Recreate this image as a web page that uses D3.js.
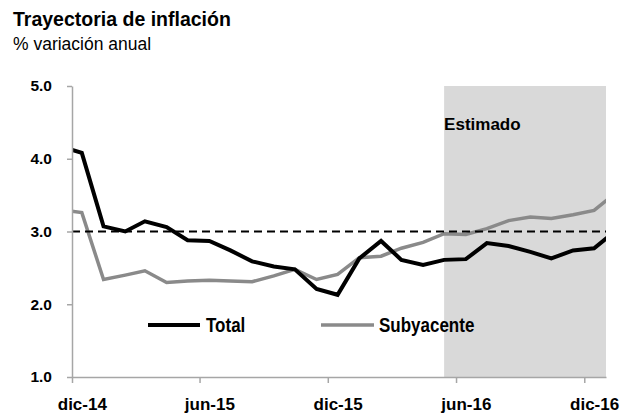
<!DOCTYPE html>
<html>
<head>
<meta charset="utf-8">
<script src="https://cdn.jsdelivr.net/npm/d3@7.9.0/dist/d3.min.js"></script>
<style>
  body { margin: 0; background: #fff; }
  svg { display: block; font-family: "Liberation Sans", Arial, sans-serif; }
  .axis path, .axis line { stroke: #a6a6a6; stroke-width: 1.5; }
  .axis text { fill: #000; font-weight: bold; }
</style>
</head>
<body>
<div id="chart"></div>
<script>
// ---------- data (monthly, % annual change) ----------
const months = ['2014-11','2014-12','2015-01','2015-02','2015-03','2015-04','2015-05','2015-06',
  '2015-07','2015-08','2015-09','2015-10','2015-11','2015-12','2016-01','2016-02','2016-03',
  '2016-04','2016-05','2016-06','2016-07','2016-08','2016-09','2016-10','2016-11','2016-12','2017-01'];
const total = [4.17, 4.08, 3.07, 3.00, 3.14, 3.06, 2.88, 2.87, 2.74, 2.59, 2.52, 2.48, 2.21, 2.13,
  2.63, 2.87, 2.61, 2.54, 2.61, 2.62, 2.84, 2.80, 2.72, 2.63, 2.74, 2.77, 3.01];
const subyacente = [3.30, 3.26, 2.34, 2.40, 2.46, 2.30, 2.32, 2.33, 2.32, 2.31, 2.39, 2.48, 2.34, 2.41,
  2.64, 2.66, 2.77, 2.85, 2.97, 2.96, 3.04, 3.15, 3.20, 3.18, 3.23, 3.29, 3.53];
const meta = 3.0;                 // target line
const estimadoDesde = '2016-05';  // start of shaded forecast area
const xRange = ['2014-12', '2017-01'];
const tickMonths = ['2014-12','2015-06','2015-12','2016-06','2016-12'];
const tickLabels = ['dic-14','jun-15','dic-15','jun-16','dic-16'];
const yTicks = [1, 2, 3, 4, 5];

const parseMonth = d3.utcParse('%Y-%m');
const mid = m => d3.utcDay.offset(parseMonth(m), 14);   // points sit mid-month

const W = 630, H = 415;
const margin = { top: 86, right: 24, bottom: 38, left: 72 };

const svg = d3.select('#chart').append('svg')
  .attr('width', W).attr('height', H);

const x = d3.scaleUtc()
  .domain(xRange.map(parseMonth))
  .range([margin.left, W - margin.right]);
const y = d3.scaleLinear()
  .domain([1, 5])
  .range([H - margin.bottom, margin.top]);

const series = [
  { name: 'Total', values: total, color: '#000', width: 4 },
  { name: 'Subyacente', values: subyacente, color: '#8a8a8a', width: 3.5 },
];

svg.append('defs').append('clipPath').attr('id', 'plot')
  .append('rect')
  .attr('x', x.range()[0]).attr('y', y.range()[1])
  .attr('width', x.range()[1] - x.range()[0])
  .attr('height', y.range()[0] - y.range()[1]);

// titles
svg.append('text').attr('x', 13).attr('y', 26)
  .style('font-size', '19.5px').style('font-weight', 'bold')
  .text('Trayectoria de inflación');
svg.append('text').attr('x', 13).attr('y', 50)
  .style('font-size', '17.5px')
  .text('% variación anual');

// shaded forecast area
svg.append('rect')
  .attr('x', x(mid(estimadoDesde)))
  .attr('y', y(5))
  .attr('width', x.range()[1] - x(mid(estimadoDesde)))
  .attr('height', y(1) - y(5))
  .attr('fill', '#d9d9d9');

svg.append('text')
  .attr('x', x(mid(estimadoDesde)))
  .attr('y', 130)
  .style('font-size', '17px').style('font-weight', 'bold')
  .text('Estimado');

// lines (drawn under the axes, clipped to the plot)
const line = d3.line()
  .x((d, i) => x(mid(months[i])))
  .y(d => y(d));

const lines = svg.append('g').attr('clip-path', 'url(#plot)');
[...series].reverse().forEach(s => {
  lines.append('path')
    .attr('d', line(s.values))
    .attr('fill', 'none')
    .attr('stroke', s.color)
    .attr('stroke-width', s.width)
    .attr('stroke-linejoin', 'miter');
});

// target dashed line
svg.append('line')
  .attr('x1', x.range()[0]).attr('x2', x.range()[1])
  .attr('y1', y(meta)).attr('y2', y(meta))
  .attr('stroke', '#000').attr('stroke-width', 2)
  .attr('stroke-dasharray', '8,5');

// axes
const yAxis = svg.append('g').attr('class', 'axis')
  .attr('transform', `translate(${margin.left},0)`)
  .call(d3.axisLeft(y).tickValues(yTicks).tickFormat(d3.format('.1f'))
    .tickSize(5).tickSizeOuter(0).tickPadding(15));
yAxis.selectAll('text').style('font-size', '15.5px');

const xAxis = svg.append('g').attr('class', 'axis')
  .attr('transform', `translate(0,${H - margin.bottom})`)
  .call(d3.axisBottom(x).tickValues(tickMonths.map(parseMonth))
    .tickFormat((d, i) => tickLabels[i])
    .tickSize(6).tickSizeOuter(0).tickPadding(15));
xAxis.selectAll('text')
  .style('font-size', '17px')
  .attr('x', (d, i) => x(mid(tickMonths[i])) - x(d));

// legend (text a little taller than wide, as in the original)
const legend = svg.append('g');
const legendPos = [{ x1: 148, x2: 200, tx: 206 }, { x1: 321, x2: 374, tx: 379 }];
series.forEach((s, i) => {
  const p = legendPos[i];
  legend.append('line')
    .attr('x1', p.x1).attr('x2', p.x2).attr('y1', 325).attr('y2', 325)
    .attr('stroke', s.color).attr('stroke-width', s.width);
  legend.append('text')
    .attr('transform', `translate(${p.tx},331.5) scale(1,1.18)`)
    .style('font-size', '17px').style('font-weight', 'bold')
    .text(s.name);
});
</script>
</body>
</html>
